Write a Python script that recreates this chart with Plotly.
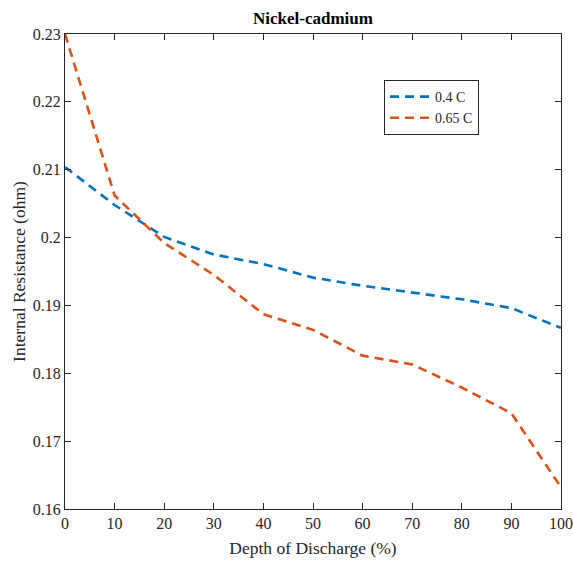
import plotly.graph_objects as go

# Depth of discharge (%) and internal resistance (ohm) for two discharge rates
dod = [0, 10, 20, 30, 40, 50, 60, 70, 80, 90, 100]
r_04c = [0.2104, 0.2048, 0.2001, 0.1975, 0.1961, 0.1941, 0.1929, 0.1919, 0.1909, 0.1896, 0.1867]
r_065c = [0.2300, 0.2062, 0.1992, 0.1945, 0.1887, 0.1864, 0.1826, 0.1813, 0.1779, 0.1741, 0.1632]

font_family = "Liberation Serif"

fig = go.Figure()
fig.add_trace(go.Scatter(
    x=dod, y=r_04c, mode="lines", name="0.4 C",
    line=dict(color="#0072BD", width=2.6, dash="9px,6px"),
))
fig.add_trace(go.Scatter(
    x=dod, y=r_065c, mode="lines", name="0.65 C",
    line=dict(color="#D95319", width=2.6, dash="9px,6px"),
))

axis_common = dict(
    showline=True, linecolor="#262626", linewidth=1.2, mirror="ticks",
    ticks="inside", ticklen=6, tickcolor="#262626", showgrid=False, zeroline=False,
    automargin=False,
    tickfont=dict(family=font_family, size=16, color="#262626"),
)

fig.update_layout(
    width=573, height=564,
    margin=dict(l=65, r=12, t=34, b=55),
    paper_bgcolor="white", plot_bgcolor="white",
    title=dict(text="<b>Nickel-cadmium</b>", x=(65 + 561) / 2 / 573, xanchor="center",
               y=1 - 18 / 564, yanchor="middle",
               font=dict(family=font_family, size=17, color="black")),
    xaxis=dict(range=[0, 100], tickvals=list(range(0, 101, 10)),
               title=dict(text="Depth of Discharge (%)", standoff=10,
                          font=dict(family=font_family, size=17.5, color="#262626")),
               **axis_common),
    yaxis=dict(range=[0.16, 0.23], tickvals=[0.16, 0.17, 0.18, 0.19, 0.2, 0.21, 0.22, 0.23],
               ticktext=["0.16", "0.17", "0.18", "0.19", "0.2", "0.21", "0.22", "0.23"],
               title=dict(text="Internal Resistance (ohm)", standoff=2,
                          font=dict(family=font_family, size=17.5, color="#262626")),
               **axis_common),
    legend=dict(x=(384 - 65) / 496, y=(509 - 80) / 475, xanchor="left", yanchor="top",
                bgcolor="white", bordercolor="#262626", borderwidth=1,
                font=dict(family=font_family, size=14, color="#262626"),
                itemwidth=40, tracegroupgap=0),
    showlegend=True,
)

fig.write_html("out.html")
